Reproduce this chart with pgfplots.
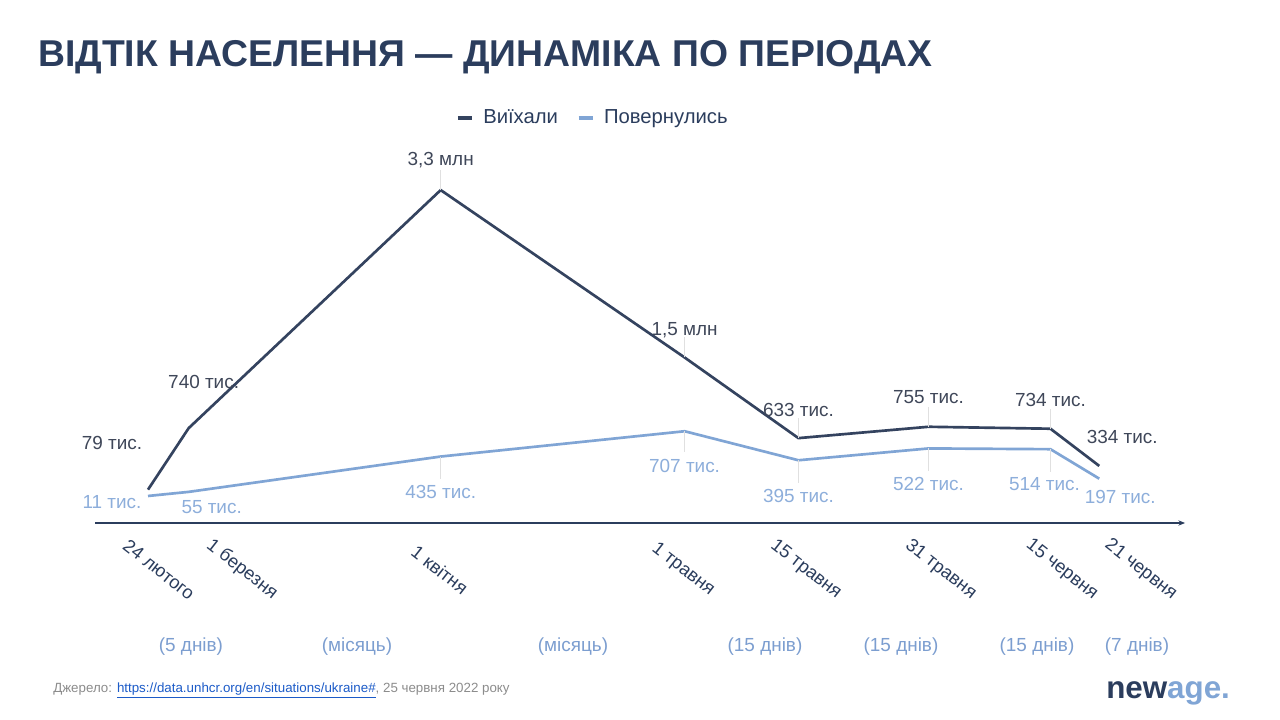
\documentclass[border=0pt]{standalone}
\usepackage{pgfplots}
\pgfplotsset{compat=1.18}
\usepackage{pgfplotstable}
\usetikzlibrary{arrows.meta}
\usepackage{fontspec}
\setmainfont{Liberation Sans}
\definecolor{titlec}{HTML}{2B3D5D}
\definecolor{navyl}{HTML}{34435F}
\definecolor{navyt}{HTML}{3F4759}
\definecolor{lightl}{HTML}{80A5D5}
\definecolor{lightt}{HTML}{8DAEDB}
\definecolor{periodc}{HTML}{7C9ED0}
\definecolor{srcgray}{HTML}{8C8C8C}
\definecolor{linkc}{HTML}{1C5BC8}

% days since 24 Feb 2022, value in thousands, label, label shift (pt), leader length
\pgfplotstableread{
d   v    lab          lx     ly     err
0   79   {79 тис.}    -27    35     0
5   740  {740 тис.}   11.25  34.5   0
36  3300 {3,3 млн}    0      22.5   215
66  1500 {1,5 млн}    0      20.6   215
80  633  {633 тис.}   0      21     215
96  755  {755 тис.}   0      22.5   215
111 734  {734 тис.}   0      21.75  215
117 334  {334 тис.}   17.25  21.75  0
}\departed
\pgfplotstableread{
d   v    lab          lx     ly      err
0   11   {11 тис.}    -27    -4.5    0
5   55   {55 тис.}    17.25  -11.25  0
36  435  {435 тис.}   0      -26.25  240
66  707  {707 тис.}   0      -26.25  220
80  395  {395 тис.}   0      -27     240
96  522  {522 тис.}   0      -27     240
111 514  {514 тис.}   -4.5   -26.25  240
117 197  {197 тис.}   15.75  -13.5   0
}\returned

\begin{document}
\begin{tikzpicture}
\useasboundingbox[fill=white] (0,0) rectangle (960pt,540pt);
\begin{axis}[
  at={(71.25pt,147.75pt)}, anchor=south west,
  scale only axis, width=817.5pt, height=294.75pt,
  xmin=-6.52, xmax=127.55, ymin=-279.6, ymax=3946,
  axis x line=bottom, axis y line=none,
  x axis line style={draw=titlec, line width=0.8pt, -{Stealth[length=5pt,width=4pt]}},
  xtick={1.35,11.56,35.9,65.8,80.9,97.5,112.4,122.1},
  xticklabels={24 лютого,1 березня,1 квітня,1 травня,15 травня,31 травня,15 червня,21 червня},
  major tick length=0pt,
  xticklabel style={font=\fontsize{13.8}{16}\selectfont, text=titlec, anchor=center, yshift=-35pt, rotate=-38},
  clip=false,
  legend columns=2,
  legend style={at={(0.457,1.0305)}, anchor=center, draw=none, fill=none,
    font=\fontsize{15.2}{18}\selectfont, text=titlec,
    /tikz/every odd column/.append style={column sep=5pt},
    /tikz/every even column/.append style={column sep=12pt}},
  legend image code/.code={\draw[#1] (0pt,0pt) -- (10.5pt,0pt);},
]
\addlegendimage{line width=3pt, color=navyl}
\addlegendentry{Виїхали}
\addlegendimage{line width=3pt, color=lightl}
\addlegendentry{Повернулись}

\addplot[forget plot, color=lightl, line width=2pt, mark=none,
  point meta=explicit symbolic,
  visualization depends on={\thisrow{lx} \as \lxs},
  visualization depends on={\thisrow{ly} \as \lys},
  nodes near coords,
  every node near coord/.append style={anchor=center, xshift=\lxs pt, yshift=\lys pt,
     font=\fontsize{14.2}{17}\selectfont, text=lightt, inner sep=1pt},
  error bars/.cd, y dir=minus, y explicit, error mark=none,
     error bar style={line width=0.5pt, color=black!12}]
  table[x=d, y=v, meta=lab, y error=err] {\returned};

\addplot[forget plot, color=navyl, line width=2pt, mark=none,
  point meta=explicit symbolic,
  visualization depends on={\thisrow{lx} \as \lxs},
  visualization depends on={\thisrow{ly} \as \lys},
  nodes near coords,
  every node near coord/.append style={anchor=center, xshift=\lxs pt, yshift=\lys pt,
     font=\fontsize{14.2}{17}\selectfont, text=navyt, inner sep=1pt},
  error bars/.cd, y dir=plus, y explicit, error mark=none,
     error bar style={line width=0.5pt, color=black!12}]
  table[x=d, y=v, meta=lab, y error=err] {\departed};
\end{axis}

\begin{scope}[x=0.75pt, y=-0.75pt, yshift=540pt]
\node[anchor=base west, inner sep=0pt, text=titlec, font=\fontsize{28}{34}\selectfont\bfseries]
  at (38,66.7) {ВІДТІК НАСЕЛЕННЯ — ДИНАМІКА ПО ПЕРІОДАХ};
\foreach \xx/\tt in {191/(5 днів), 357/(місяць), 573/(місяць), 765/(15 днів), 901/(15 днів), 1037/(15 днів), 1137/(7 днів)}
  \node[text=periodc, font=\fontsize{14.2}{17}\selectfont, inner sep=0pt] at (\xx,647) {\tt};
\node[anchor=base west, inner sep=0pt, font=\fontsize{10}{12}\selectfont, text=srcgray]
  at (53,693) {Джерело: \textcolor{linkc}{\underline{https://data.unhcr.org/en/situations/ukraine\#}}, 25 червня 2022 року};
\node[anchor=base west, inner sep=0pt, font=\fontsize{23.5}{27}\selectfont\bfseries]
  at (1106,699) {\textcolor{titlec}{new}\textcolor{lightl}{age.}};
\end{scope}
\end{tikzpicture}
\end{document}
